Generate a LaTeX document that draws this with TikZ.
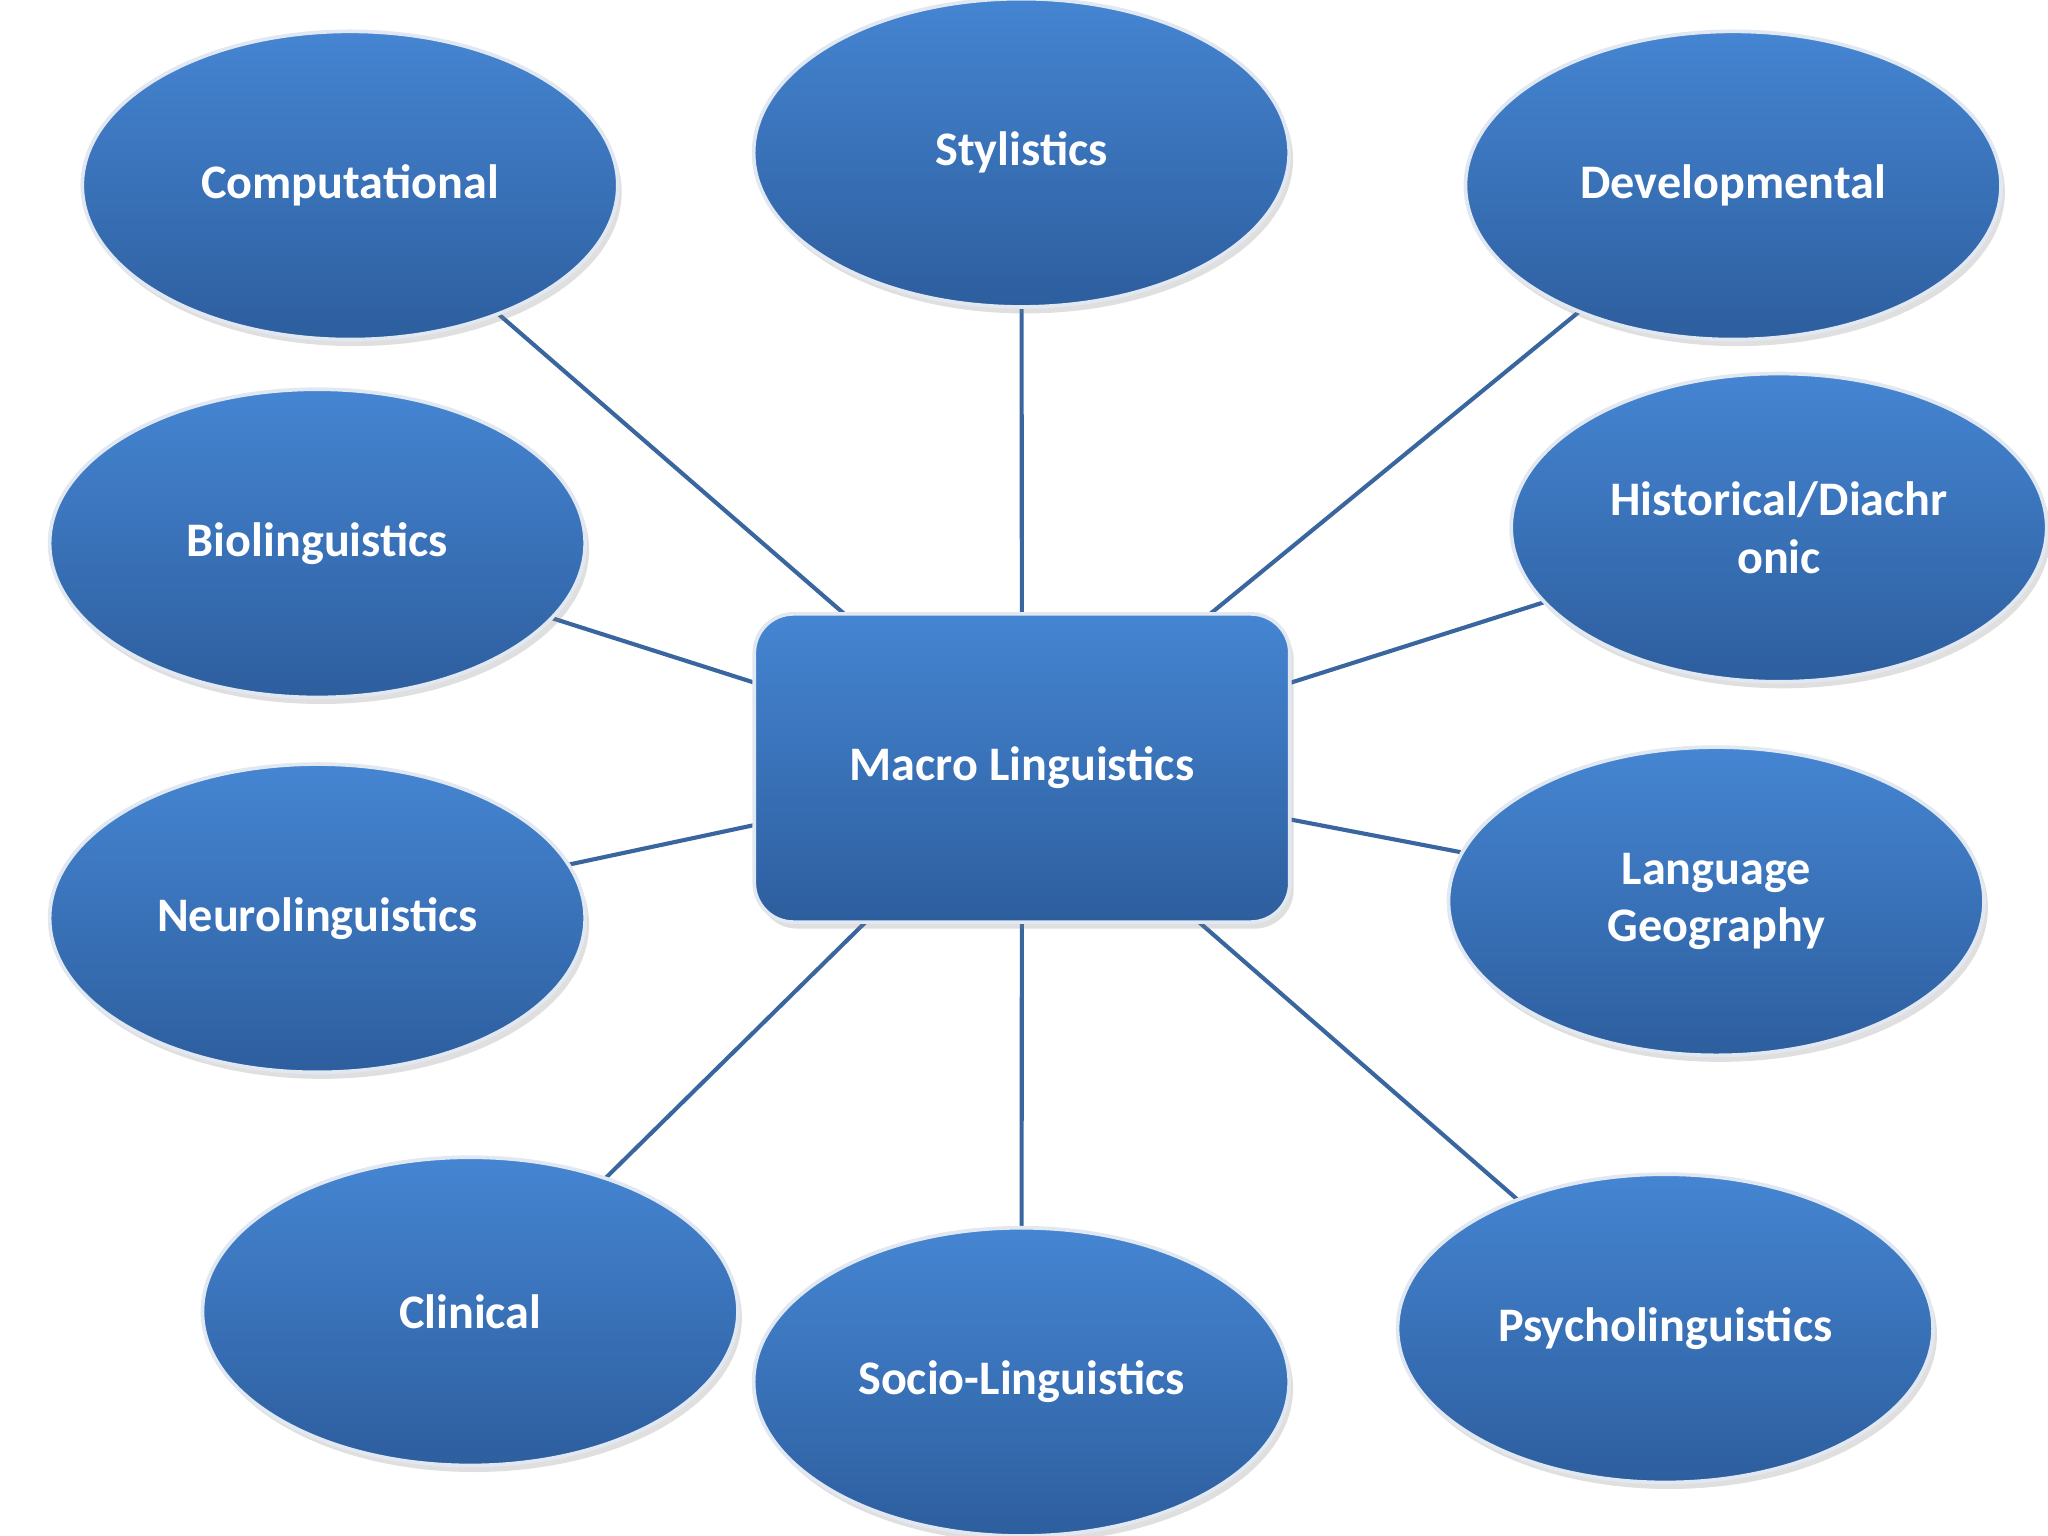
\documentclass[tikz,border=0pt]{standalone}
\usepackage{fontspec}
\setmainfont{Carlito}
\usetikzlibrary{shapes.geometric,shadows,backgrounds}
\definecolor{btop}{HTML}{4585D2}
\definecolor{bbot}{HTML}{2D5E9E}
\definecolor{bline}{HTML}{3A66A0}
\tikzset{
  topic/.style={ellipse, minimum width=4.1cm, minimum height=2.36cm, top color=btop, bottom color=bbot,
    draw=white!85!bline, line width=0.8pt, text=white, font=\bfseries\fontsize{10.5}{12.5}\selectfont,
    align=center, drop shadow={shadow xshift=0.03cm, shadow yshift=-0.05cm, opacity=0.25}},
  hub/.style={rectangle, rounded corners=0.3cm, minimum width=4.1cm, minimum height=2.36cm, top color=btop, bottom color=bbot,
    draw=white!85!bline, line width=0.8pt, text=white, font=\bfseries\fontsize{10.5}{12.5}\selectfont,
    drop shadow={shadow xshift=0.03cm, shadow yshift=-0.05cm, opacity=0.25}},
  link/.style={draw=bline, line width=0.9pt}
}
\begin{document}
\begin{tikzpicture}
\useasboundingbox (0,0) rectangle (15.68,-11.76);
\node[hub] (m) at (7.825,-5.88) {Macro Linguistics};
\node[topic] (comp) at (2.68,-1.42) {Computational};
\node[topic] (sty) at (7.82,-1.17) {Stylistics};
\node[topic] (dev) at (13.27,-1.42) {Developmental};
\node[topic] (his) at (13.62,-4.04) {Historical/Diachr\\onic};
\node[topic] (bio) at (2.43,-4.16) {Biolinguistics};
\node[topic] (neu) at (2.43,-7.03) {Neurolinguistics};
\node[topic] (geo) at (13.14,-6.90) {Language\\Geography};
\node[topic] (cli) at (3.60,-10.04) {Clinical};
\node[topic] (soc) at (7.82,-10.58) {Socio-Linguistics};
\node[topic] (psy) at (12.75,-10.17) {Psycholinguistics};
\begin{pgfonlayer}{background}
\foreach \n in {comp,sty,dev,his,bio,neu,geo,cli,soc,psy}
  \draw[link] (\n.center) -- (m.center);
\end{pgfonlayer}
\end{tikzpicture}
\end{document}
